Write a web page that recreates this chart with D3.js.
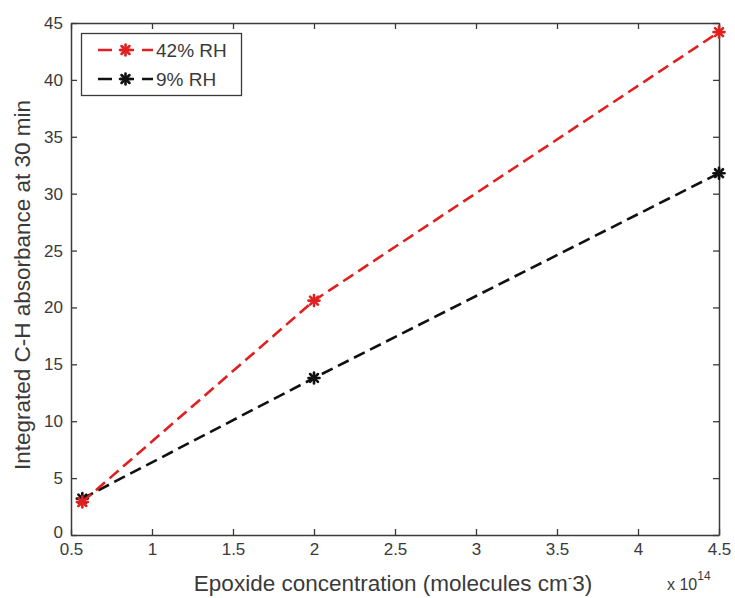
<!DOCTYPE html>
<html>
<head>
<meta charset="utf-8">
<script src="https://cdn.jsdelivr.net/npm/d3@7"></script>
<style>
  html, body { margin: 0; padding: 0; background: #fff; }
  svg { display: block; font-family: "Liberation Sans", Arial, sans-serif; }
</style>
</head>
<body>
<svg id="chart" width="735" height="598"></svg>
<script>
// Epoxide concentration (×10^14 molecules cm^-3)
const concentration = [0.57, 2.0, 4.5];
// Integrated C-H absorbance at 30 min, per humidity level
const rh42 = [2.9, 20.6, 44.2];
const rh9 = [3.2, 13.8, 31.8];
const seriesNames = ["42% RH", "9% RH"];
const seriesColors = ["#e02020", "#111111"];
const xTicks = [0.5, 1, 1.5, 2, 2.5, 3, 3.5, 4, 4.5];
const yTicks = [0, 5, 10, 15, 20, 25, 30, 35, 40, 45];

const svg = d3.select("#chart");
const m = { left: 71, right: 719, top: 23, bottom: 535 };
const axisColor = "#3a3a3a";
const textColor = "#3a3a3a";

const x = d3.scaleLinear().domain([0.5, 4.5]).range([m.left, m.right]);
const y = d3.scaleLinear().domain([0, 45]).range([m.bottom, m.top]);

// Axes with inward ticks on all four sides (boxed frame)
const tickLen = 6;
const axisStyle = g => {
  g.select(".domain").attr("stroke", axisColor).attr("stroke-width", 1.5);
  g.selectAll(".tick line").attr("stroke", axisColor).attr("stroke-width", 1.3);
  g.selectAll(".tick text").attr("fill", textColor).style("font-size", "17px");
};
const fmt = d => String(d);

svg.append("g").attr("transform", `translate(0,${m.bottom})`)
  .call(d3.axisBottom(x).tickValues(xTicks).tickFormat(fmt).tickSizeInner(-tickLen).tickSizeOuter(0).tickPadding(8))
  .call(axisStyle);
svg.append("g").attr("transform", `translate(0,${m.top})`)
  .call(d3.axisTop(x).tickValues(xTicks).tickFormat("").tickSizeInner(-tickLen).tickSizeOuter(0))
  .call(axisStyle);
const yAxis = svg.append("g").attr("transform", `translate(${m.left},0)`)
  .call(d3.axisLeft(y).tickValues(yTicks).tickFormat(fmt).tickSizeInner(-tickLen).tickSizeOuter(0).tickPadding(8))
  .call(axisStyle);
// lift the zero label slightly so it clears the first x label
yAxis.selectAll(".tick text").filter(d => d === 0).attr("dy", "0.12em");
svg.append("g").attr("transform", `translate(${m.right},0)`)
  .call(d3.axisRight(y).tickValues(yTicks).tickFormat("").tickSizeInner(-tickLen).tickSizeOuter(0))
  .call(axisStyle);

// Axis titles
svg.append("text")
  .attr("x", 393).attr("y", 591)
  .attr("text-anchor", "middle").attr("fill", textColor).style("font-size", "22.5px")
  .call(t => {
    t.append("tspan").text("Epoxide concentration (molecules cm");
    t.append("tspan").attr("dy", -9).style("font-size", "13px").text("-");
    t.append("tspan").attr("dy", 9).text("3)");
  });

svg.append("text")
  .attr("x", 667).attr("y", 590).attr("fill", textColor).style("font-size", "16px")
  .call(t => {
    t.append("tspan").text("x 10");
    t.append("tspan").attr("dy", -10).style("font-size", "12px").text("14");
  });

svg.append("text")
  .attr("transform", `translate(30,${(m.top + m.bottom) / 2 + 6}) rotate(-90)`)
  .attr("text-anchor", "middle").attr("fill", textColor).style("font-size", "22.5px")
  .text("Integrated C-H absorbance at 30 min");

// Data lines with asterisk markers
const series = [rh42, rh9];
const line = d3.line().x((d, i) => x(concentration[i])).y(d => y(d));
const asterisk = (g, cx, cy, color) => {
  const r = 5.5;
  const p = g.append("g").attr("transform", `translate(${cx},${cy})`)
    .attr("stroke", color).attr("stroke-width", 2.6).attr("stroke-linecap", "round");
  p.append("line").attr("x1", -r).attr("x2", r).attr("y1", 0).attr("y2", 0);
  p.append("line").attr("x1", 0).attr("x2", 0).attr("y1", -r).attr("y2", r);
  p.append("line").attr("x1", -r * 0.72).attr("x2", r * 0.72).attr("y1", -r * 0.72).attr("y2", r * 0.72);
  p.append("line").attr("x1", -r * 0.72).attr("x2", r * 0.72).attr("y1", r * 0.72).attr("y2", -r * 0.72);
};

series.slice().reverse().forEach((vals, k) => {
  const i = series.length - 1 - k;
  svg.append("path").datum(vals)
    .attr("d", line).attr("fill", "none")
    .attr("stroke", seriesColors[i]).attr("stroke-width", 2.6)
    .attr("stroke-dasharray", "12,6");
  vals.forEach((v, j) => asterisk(svg, x(concentration[j]), y(v), seriesColors[i]));
});

// Legend
const lg = svg.append("g");
lg.append("rect").attr("x", 81.5).attr("y", 33.5).attr("width", 160).attr("height", 62)
  .attr("fill", "#fff").attr("stroke", axisColor).attr("stroke-width", 1.3);
seriesNames.forEach((name, i) => {
  const ly = 50 + i * 29;
  lg.append("line").attr("x1", 98).attr("x2", 153).attr("y1", ly).attr("y2", ly)
    .attr("stroke", seriesColors[i]).attr("stroke-width", 2.6).attr("stroke-dasharray", "14,8");
  asterisk(lg, 125.5, ly, seriesColors[i]);
  lg.append("text").attr("x", 156).attr("y", ly + 7).attr("fill", textColor)
    .style("font-size", "19px").text(name);
});
</script>
</body>
</html>
